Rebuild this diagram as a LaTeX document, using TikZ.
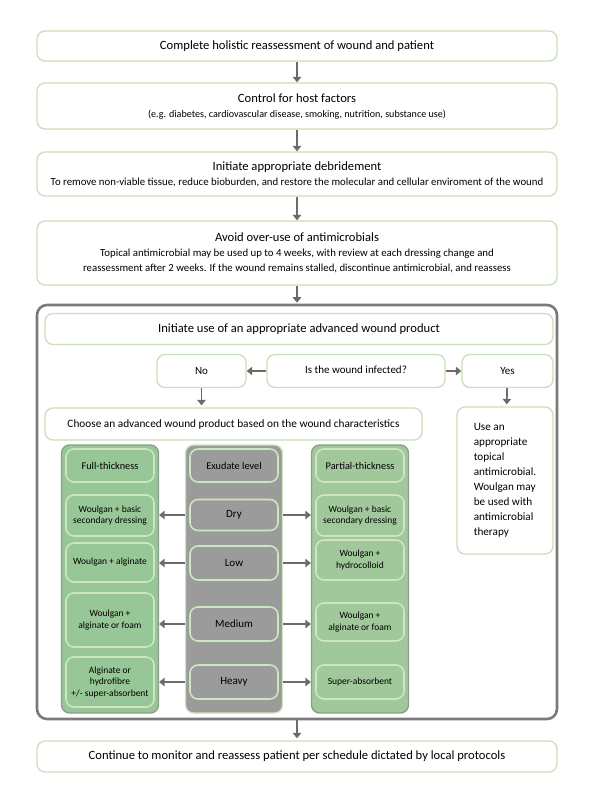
\documentclass[tikz,border=0pt]{standalone}
\usepackage{fontspec}
\setmainfont{Carlito}
\usetikzlibrary{arrows.meta}

\definecolor{boxgreen}{HTML}{C9DFBA}
\definecolor{cellline}{HTML}{CDE6C0}
\definecolor{framegrey}{HTML}{7A7A7A}
\definecolor{arrowgrey}{HTML}{6B6B6B}
\definecolor{fullgreen}{HTML}{97C796}
\definecolor{partgreen}{HTML}{A0C89B}
\definecolor{exugrey}{HTML}{9B9B9B}
\definecolor{colline}{HTML}{8C9C8C}

\tikzset{
    stepbox/.style={draw=boxgreen, line width=1.3pt, rounded corners=8pt, fill=white,
        align=center, inner sep=2pt, font=\fontsize{12.6}{15}\selectfont},
    flow/.style={draw=arrowgrey, line width=1.7pt, -{Triangle[length=5.5pt,width=8.5pt]}},
    column/.style={draw=colline, line width=1.3pt, rounded corners=8pt, minimum width=97pt, minimum height=268pt},
    cell/.style={draw=cellline, line width=1.6pt, rounded corners=8pt, align=center,
        inner sep=1pt, minimum width=88pt, font=\fontsize{9.5}{11.5}\selectfont},
    headcell/.style={cell, minimum height=33pt, font=\fontsize{10.3}{13}\selectfont},
    levelcell/.style={cell, fill=exugrey, minimum height=33pt, font=\fontsize{11}{13}\selectfont},
    choicebox/.style={stepbox, font=\fontsize{11}{14}\selectfont}
}

\begin{document}
\begin{tikzpicture}[x=1pt, y=-1pt]
    \useasboundingbox (0,0) rectangle (595,801);

    \node[stepbox, minimum width=520pt, minimum height=30pt] (reassess) at (297,46)
        {Complete holistic reassessment of wound and patient};
    \node[stepbox, minimum width=520pt, minimum height=46pt] (host) at (297,106)
        {Control for host factors\\{\fontsize{10.1}{14.5}\selectfont(e.g. diabetes, cardiovascular disease, smoking, nutrition, substance use)}};
    \node[stepbox, minimum width=520pt, minimum height=44pt] (debride) at (297,174)
        {Initiate appropriate debridement\\{\fontsize{10.8}{14}\selectfont To remove non-viable tissue, reduce bioburden, and restore the molecular and cellular enviroment of the wound}};
    \node[stepbox, minimum width=520pt, minimum height=64pt] (avoid) at (297,253)
        {Avoid over-use of antimicrobials\\{\fontsize{10.8}{14.5}\selectfont Topical antimicrobial may be used up to 4 weeks, with review at each dressing change and}\\
         {\fontsize{10.8}{14.5}\selectfont reassessment after 2 weeks. If the wound remains stalled, discontinue antimicrobial, and reassess}};

    \node[draw=framegrey, line width=2.6pt, rounded corners=10pt, minimum width=520pt, minimum height=414pt] (frame) at (297,512) {};

    \node[stepbox, minimum width=508pt, minimum height=31pt] (initiate) at (299,329)
        {Initiate use of an appropriate advanced wound product};
    \node[choicebox, minimum width=178pt, minimum height=33pt] (infected) at (356,371)
        {\raisebox{2pt}{Is the wound infected?}};
    \node[choicebox, minimum width=89pt, minimum height=33pt] (no) at (201.5,371) {No};
    \node[choicebox, minimum width=91pt, minimum height=33pt] (yes) at (507.5,371) {Yes};
    \node[choicebox, minimum width=377pt, minimum height=32pt, font=\fontsize{11.3}{14}\selectfont] (choose) at (233.5,424)
        {Choose an advanced wound product based on the wound characteristics};
    \node[stepbox, minimum width=96pt, minimum height=147pt, align=left, font=\fontsize{11.2}{15}\selectfont] (topical) at (505,480.5)
        {Use an\\appropriate\\topical\\antimicrobial.\\Woulgan may\\be used with\\antimicrobial\\therapy};

    \node[column, fill=fullgreen] (fullcol) at (110,579) {};
    \node[column, fill=exugrey, draw=cellline] (exucol) at (234,579) {};
    \node[column, fill=partgreen] (partcol) at (360,579) {};

    \node[headcell, fill=fullgreen] (fullhead) at (110,465.5) {Full-thickness};
    \node[cell, fill=fullgreen, minimum height=41pt] (fulldry) at (110,515.5) {Woulgan + basic\\secondary dressing};
    \node[cell, fill=fullgreen, minimum height=39pt] (fulllow) at (110,562.5) {Woulgan + alginate};
    \node[cell, fill=fullgreen, minimum height=54pt] (fullmed) at (110,620) {Woulgan +\\alginate or foam};
    \node[cell, fill=fullgreen, minimum height=50pt] (fullheavy) at (110,682) {Alginate or\\hydrofibre\\+/- super-absorbent};

    \node[headcell, fill=exugrey] (exuhead) at (234,465.5) {Exudate level};
    \node[levelcell, minimum height=31pt] (exudry) at (234,515) {Dry};
    \node[levelcell, minimum height=34pt] (exulow) at (234,563) {Low};
    \node[levelcell, minimum height=34pt] (exumed) at (234,624) {Medium};
    \node[levelcell, minimum height=34pt] (exuheavy) at (234,682) {Heavy};

    \node[headcell, fill=partgreen] (parthead) at (360,465.5) {Partial-thickness};
    \node[cell, fill=partgreen, minimum height=41pt] (partdry) at (360,515.5) {Woulgan + basic\\secondary dressing};
    \node[cell, fill=partgreen, minimum height=40pt] (partlow) at (360,560) {Woulgan +\\hydrocolloid};
    \node[cell, fill=partgreen, minimum height=38pt] (partmed) at (360,622) {Woulgan +\\alginate or foam};
    \node[cell, fill=partgreen, minimum height=34pt] (partheavy) at (360,682) {Super-absorbent};

    \node[stepbox, minimum width=520pt, minimum height=31pt] (monitor) at (297,756.5)
        {Continue to monitor and reassess patient per schedule dictated by local protocols};

    \draw[flow] (reassess) -- (host);
    \draw[flow] (host) -- (debride);
    \draw[flow] (debride) -- (avoid);
    \draw[flow, shorten >=1pt] (avoid) -- (frame.north);
    \draw[flow] (infected) -- (no);
    \draw[flow] (infected) -- (yes);
    \draw[flow, shorten >=2pt] (no) -- (no |- choose.north);
    \draw[flow, shorten >=2pt] (yes) -- (topical);
    \foreach \row in {exudry, exulow, exumed, exuheavy} {
        \draw[flow] (exucol.west |- \row) -- (fullcol.east |- \row);
        \draw[flow] (exucol.east |- \row) -- (partcol.west |- \row);
    }
    \draw[flow, shorten >=2pt] (frame.south) -- (monitor);
\end{tikzpicture}
\end{document}
